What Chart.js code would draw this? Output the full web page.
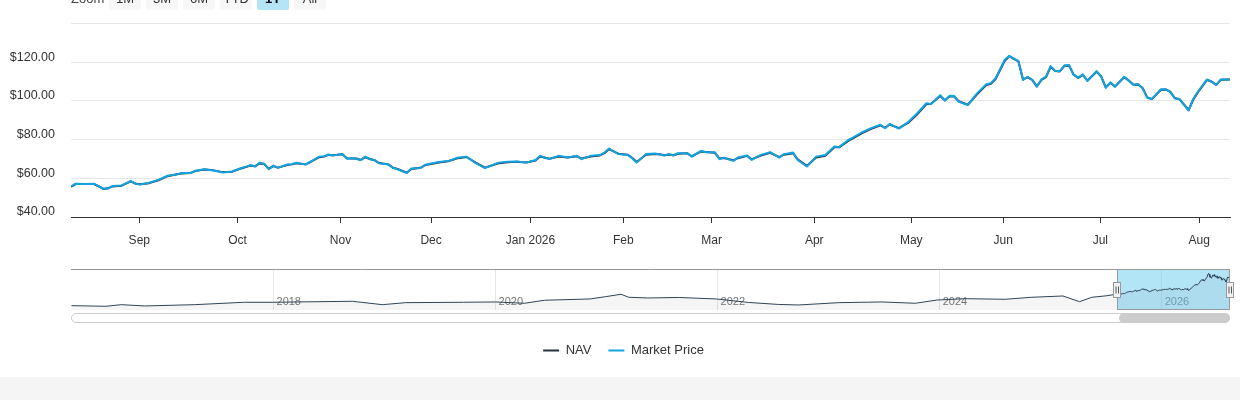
<!DOCTYPE html>
<html><head><meta charset="utf-8">
<script src="https://cdn.jsdelivr.net/npm/chart.js@4.4.1/dist/chart.umd.min.js"></script>
<style>
html,body{margin:0;padding:0;background:#fff;width:1240px;height:400px;overflow:hidden;font-family:"Liberation Sans",Arial,sans-serif;}
#wrap{position:relative;width:1240px;height:400px;overflow:hidden;}
#mainBox{position:absolute;left:0;top:0;width:1240px;height:260px;}
#navBox{position:absolute;left:0;top:260px;width:1240px;height:118px;}
#band{position:absolute;left:0;top:377px;width:1240px;height:23px;background:#f5f5f5;}
#rs{position:absolute;left:71px;top:-12px;height:22px;width:300px;}
.lbl{position:absolute;left:0;top:0;line-height:22px;font-size:13px;color:#444;}
.btn{position:absolute;top:0;width:32px;height:22px;line-height:22px;text-align:center;font-size:13px;color:#333;background:#f7f7f7;border-radius:2px;}
.btn.sel{background:#b3e5f7;font-weight:bold;color:#000;}
#sb{position:absolute;left:71px;top:313px;width:1157px;height:8px;border:1px solid #ccc;border-radius:5px;background:#fff;}
#thumb{position:absolute;left:1119px;top:313px;width:111px;height:10px;background:#ccc;border-radius:5px;}
</style>
</head><body>
<div id="wrap">
  <div id="mainBox"><canvas id="mainCanvas"></canvas></div>
  <div id="rs">
    <span class="lbl">Zoom</span>
    <span class="btn" style="left:38px">1M</span>
    <span class="btn" style="left:75px">3M</span>
    <span class="btn" style="left:112px">6M</span>
    <span class="btn" style="left:149px">YTD</span>
    <span class="btn sel" style="left:186px">1Y</span>
    <span class="btn" style="left:223px">All</span>
  </div>
  <div id="navBox"><canvas id="navCanvas"></canvas></div>
  <div id="sb"></div>
  <div id="thumb"></div>
  <div id="band"></div>
</div>
<script>
// ---- Data (1Y window, x = trading-day number from the start of the window) ----
const tradeDay = [0,1,3,5,6,7,8,9,11,13,14,15,17,19,21,23,24,26,27,29,31,33,35,37,38,39,40,41,42,43,44,45,47,48,49,51,52,54,55,56,57,59,60,61,62,63,64,65,66,67,69,70,71,73,74,76,77,78,80,82,84,86,88,89,90,93,95,97,99,101,102,104,106,108,110,111,113,115,116,117,119,121,122,123,125,127,128,129,130,131,132,134,135,137,138,140,141,142,144,145,147,148,150,152,154,155,157,158,160,162,164,166,167,169,170,172,174,176,177,178,180,182,184,186,187,189,190,191,192,193,195,197,199,200,201,203,204,206,207,208,209,210,211,212,213,214,215,216,217,218,219,220,221,223,224,225,226,227,229,230,231,232,233,234,235,237,238,239,240,241,243,244,245,247,248,249,250,252];
const marketPrice = [55.8,57.2,57.0,57.2,55.8,54.6,54.7,56.0,56.3,58.6,57.2,56.8,57.7,59.2,61.3,62.0,62.7,62.7,63.9,64.7,64.0,63.0,63.5,65.3,65.9,66.8,66.1,68.0,67.5,64.7,66.6,65.4,67.1,67.3,68.0,67.1,68.5,71.2,71.4,72.3,71.8,72.6,70.1,70.4,70.1,69.4,71.2,69.9,69.5,67.8,67.1,65.3,64.7,62.7,65.1,65.3,67.0,67.5,68.4,68.9,70.6,71.2,67.8,66.6,65.3,68.1,68.5,68.7,68.1,69.5,71.6,69.9,71.6,70.7,71.6,69.9,71.6,72.0,73.3,75.4,72.5,72.1,70.4,68.1,72.5,72.8,72.3,71.8,72.5,71.8,73.0,73.0,71.2,74.2,73.5,73.5,69.9,70.7,69.0,70.7,71.8,69.5,72.1,73.5,70.7,72.5,73.3,69.5,66.1,71.2,72.0,76.4,76.1,79.8,81.0,83.8,85.9,87.7,85.9,88.1,85.7,89.0,93.6,98.8,98.4,103.0,100.1,102.6,102.5,99.6,97.9,103.9,108.6,109.1,111.6,121.1,123.3,120.6,110.8,112.5,110.8,107.3,111.1,112.5,118.0,115.4,115.4,118.4,118.5,113.4,112.0,113.7,110.3,115.4,112.5,106.8,109.6,107.3,112.5,110.4,108.2,108.7,106.5,101.6,101.0,106.0,106.0,104.7,101.3,101.0,95.0,101.0,104.7,111.1,109.9,108.2,111.1,111.1];
const navValues = [55.6,57.0,57.0,57.0,55.9,54.5,54.8,55.8,56.2,58.4,57.3,56.9,57.5,59.0,61.1,62.1,62.5,62.8,63.7,64.6,64.1,63.2,63.4,65.1,65.8,66.6,66.2,67.7,67.4,64.9,66.3,65.5,66.9,67.2,67.8,67.2,68.3,70.9,71.2,72.1,71.9,72.4,70.3,70.2,70.2,69.5,70.9,70.0,69.3,67.9,67.2,65.5,64.8,62.9,64.8,65.4,66.8,67.3,68.2,68.8,70.3,71.0,68.1,66.8,65.5,67.8,68.3,68.6,68.2,69.2,71.3,70.1,71.3,70.8,71.4,70.2,71.3,71.8,73.0,75.1,72.7,72.2,70.6,68.4,72.2,72.6,72.4,71.9,72.3,71.9,72.7,72.9,71.4,73.9,73.6,73.2,70.2,70.5,69.3,70.4,71.6,69.8,71.8,73.2,70.9,72.2,73.0,69.8,66.4,70.8,71.7,76.0,76.0,79.3,80.6,83.4,85.6,87.4,86.1,87.8,85.9,88.6,93.1,98.3,98.5,102.5,100.3,102.3,102.4,99.8,98.0,103.4,108.2,108.9,111.2,120.6,123.0,120.4,111.1,112.2,110.9,107.5,110.8,112.3,117.6,115.5,115.2,118.1,118.3,113.6,111.9,113.4,110.5,115.1,112.6,107.0,109.3,107.5,112.2,110.5,108.4,108.5,106.7,101.8,100.9,105.7,105.9,104.8,101.5,100.9,95.3,100.6,104.4,110.8,110.0,108.3,110.9,111.0];
const lastTradeDay = 252;
// month boundaries in trading-day units
const monthTickPos = [14.85,36.2,58.6,78.3,99.9,120.1,139.3,161.6,182.7,202.7,223.8,245.3];
const monthTickLabels = ['Sep','Oct','Nov','Dec','Jan 2026','Feb','Mar','Apr','May','Jun','Jul','Aug'];
const yTickValues = [40,60,80,100,120,140];

// ---- Navigator history (decimal year, NAV) ----
const histYear = [2016.18,2016.49,2016.63,2016.84,2017.29,2017.74,2018.0,2018.71,2018.98,2019.19,2019.71,2020.0,2020.26,2020.44,2020.85,2020.99,2021.13,2021.2,2021.37,2021.65,2021.99,2022.28,2022.55,2022.73,2023.09,2023.48,2023.78,2023.98,2024.23,2024.59,2024.83,2025.11,2025.26,2025.37,2025.5];
const histNav = [18.1,16.1,21.3,17.1,21.3,29.1,29.1,32.3,21.3,27.8,29.1,30.1,25.8,35.6,39.8,47.2,55.0,45.3,43.0,44.6,39.8,28.4,22.0,20.3,27.8,30.1,25.8,36.5,40.7,38.8,45.3,49.5,31.0,45.3,50.0];
const navYearTicks = [2018,2020,2022,2024,2026];
const navStartYear = 2016.176, navEndYear = 2026.615;
const selStartYear = 2025.597, selEndYear = 2026.615;

const priceColor = '#12a3e0';
const navColor = '#27313d';
const FONT = '"Liberation Sans", Arial, sans-serif';
Chart.defaults.font.family = FONT;
Chart.defaults.devicePixelRatio = 1;

// ---- Main chart ----
new Chart(document.getElementById('mainCanvas'), {
  type: 'line',
  data: {
    datasets: [
      { label: 'Market Price', data: tradeDay.map((d, i) => ({x: d, y: marketPrice[i]})),
        borderColor: priceColor, borderWidth: 2, pointRadius: 0, tension: 0, order: 0, borderJoinStyle: 'round' },
      { label: 'NAV', data: tradeDay.map((d, i) => ({x: d, y: navValues[i]})),
        borderColor: navColor, borderWidth: 2, pointRadius: 0, tension: 0, order: 1, borderJoinStyle: 'round' }
    ]
  },
  options: {
    responsive: true, maintainAspectRatio: false, animation: false,
    layout: { padding: { top: 23, right: 10, left: 0, bottom: 0 } },
    plugins: { legend: { display: false }, tooltip: { enabled: false } },
    scales: {
      x: {
        type: 'linear', min: 0, max: lastTradeDay,
        afterBuildTicks: s => { s.ticks = monthTickPos.map(v => ({ value: v })); },
        afterFit: s => { s.height = 43; },
        ticks: { autoSkip: false, maxRotation: 0, padding: 10, color: '#333', font: { size: 12 },
                 callback: (v, i) => monthTickLabels[i] },
        grid: { drawOnChartArea: false, drawTicks: true, tickLength: 6, tickColor: '#333', tickWidth: 1 },
        border: { display: true, color: '#333', width: 1 }
      },
      y: {
        min: 40, max: 140,
        afterBuildTicks: s => { s.ticks = yTickValues.map(v => ({ value: v })); },
        afterFit: s => { s.width = 71; },
        ticks: { padding: 16, labelOffset: -5, color: '#333', font: { size: 12.5 },
                 callback: v => v === 140 ? '' : '$' + Number(v).toFixed(2) },
        grid: { color: '#e6e6e6', drawTicks: false, lineWidth: 1 },
        border: { display: false }
      }
    }
  }
});

// ---- Navigator ----
const navPoints = histYear.map((yr, i) => ({ x: yr, y: histNav[i] }))
  .concat(tradeDay.map((d, i) => ({ x: selStartYear + d / lastTradeDay * (selEndYear - selStartYear), y: navValues[i] })));

const maskPlugin = {
  id: 'navMask',
  beforeDatasetsDraw(chart) {
    const { ctx, chartArea: a, scales: { x } } = chart;
    ctx.save();
    // year labels inside the navigator, left-aligned next to their grid line
    ctx.font = '11px ' + FONT;
    ctx.fillStyle = '#777';
    ctx.textAlign = 'left';
    ctx.textBaseline = 'middle';
    navYearTicks.forEach(yr => {
      ctx.fillText(String(yr), x.getPixelForValue(yr) + 3, a.bottom - 8);
    });
    const x1 = Math.round(x.getPixelForValue(selStartYear));
    const x2 = Math.round(x.getPixelForValue(selEndYear));
    ctx.fillStyle = 'rgba(102,204,238,0.5)';
    ctx.fillRect(x1, a.top, x2 - x1, a.bottom - a.top);
    ctx.restore();
  },
  afterDatasetsDraw(chart) {
    const { ctx, chartArea: a, scales: { x } } = chart;
    const x1 = Math.round(x.getPixelForValue(selStartYear));
    const x2 = Math.round(x.getPixelForValue(selEndYear));
    ctx.save();
    ctx.strokeStyle = '#999'; ctx.lineWidth = 1;
    ctx.beginPath();
    ctx.moveTo(a.left, a.top + 0.5); ctx.lineTo(a.right, a.top + 0.5);
    ctx.moveTo(x1 + 0.5, a.top); ctx.lineTo(x1 + 0.5, a.bottom - 0.5);
    ctx.lineTo(x2 - 0.5, a.bottom - 0.5); ctx.lineTo(x2 - 0.5, a.top);
    ctx.stroke();
    const mid = (a.top + a.bottom) / 2;
    [x1, x2].forEach(hx => {
      const hl = hx - 3.5, ht = Math.round(mid - 7.5) + 0.5;
      ctx.fillStyle = '#f2f2f2'; ctx.strokeStyle = '#999';
      ctx.fillRect(hl, ht, 7, 15); ctx.strokeRect(hl, ht, 7, 15);
      ctx.beginPath();
      ctx.moveTo(hx - 1, ht + 4); ctx.lineTo(hx - 1, ht + 11);
      ctx.moveTo(hx + 1.5, ht + 4); ctx.lineTo(hx + 1.5, ht + 11);
      ctx.strokeStyle = '#555'; ctx.stroke();
    });
    ctx.restore();
  }
};

new Chart(document.getElementById('navCanvas'), {
  type: 'line',
  data: { datasets: [{ label: 'NAV', data: navPoints, borderColor: '#2f4456', borderWidth: 1, pointRadius: 0, tension: 0,
                       fill: 'start', backgroundColor: 'rgba(52,65,79,0.05)' }] },
  options: {
    responsive: true, maintainAspectRatio: false, animation: false,
    layout: { padding: { top: 9, right: 0, left: 7, bottom: 11 } },
    plugins: {
      tooltip: { enabled: false },
      legend: {
        display: true, position: 'bottom', onClick: null,
        labels: {
          usePointStyle: true, pointStyleWidth: 16, boxHeight: 13, padding: 17, color: '#333', font: { size: 13 },
          generateLabels: () => [
            { text: 'NAV', strokeStyle: navColor, fillStyle: navColor, lineWidth: 2, pointStyle: 'line', hidden: false, fontColor: '#333' },
            { text: 'Market Price', strokeStyle: priceColor, fillStyle: priceColor, lineWidth: 2, pointStyle: 'line', hidden: false, fontColor: '#333' }
          ]
        }
      }
    },
    scales: {
      x: {
        type: 'linear', min: navStartYear, max: navEndYear,
        afterBuildTicks: s => { s.ticks = navYearTicks.map(v => ({ value: v })); },
        afterFit: s => { s.height = 17; },
        ticks: { display: false },
        grid: { color: '#e6e6e6', drawTicks: false },
        border: { display: false }
      },
      y: { min: 4, max: 137, ticks: { display: false }, grid: { display: false }, border: { display: false },
           afterFit: s => { s.width = 64; } },
      yr: { position: 'right', min: 0, max: 1, ticks: { display: false }, grid: { display: false }, border: { display: false },
            afterFit: s => { s.width = 10; } }
    }
  },
  plugins: [maskPlugin]
});
</script>
</body></html>
